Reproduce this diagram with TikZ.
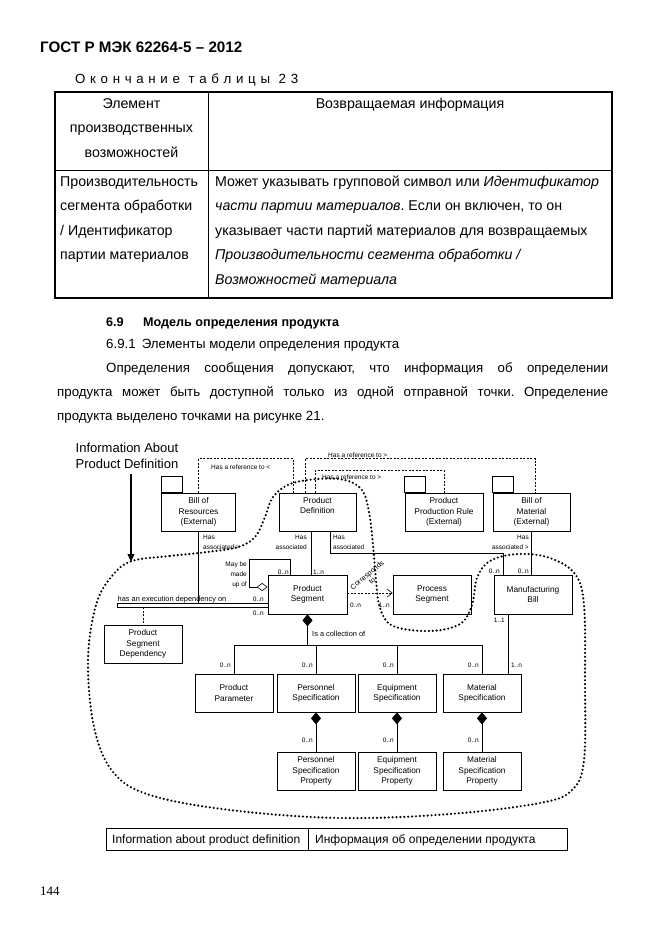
\documentclass[tikz,border=0pt]{standalone}
\usepackage{fontspec}
\setmainfont{Liberation Sans}
\newfontfamily\pagenumfont{Liberation Serif}
\usetikzlibrary{arrows.meta}
\frenchspacing

\newcommand\bodysize{\fontsize{13.3pt}{24pt}\selectfont}
\newcommand\tablesize{\fontsize{14.2pt}{24pt}\selectfont}
\newcommand\boxsize{\fontsize{8.3pt}{10.3pt}\selectfont}
\newcommand\tagsize{\fontsize{6.5pt}{9.5pt}\selectfont}
\newcommand\notesize{\fontsize{7.4pt}{9.5pt}\selectfont}

\tikzset{
  txt/.style={anchor=base west, inner sep=0pt, font=\bodysize},
  cell/.style={anchor=base west, inner sep=0pt, font=\tablesize},
  cls/.style={draw, line width=0.7pt, minimum width=78pt, minimum height=38pt,
    inner sep=1pt, align=center, font=\boxsize},
  mult/.style={inner sep=0pt, font=\tagsize},
  link/.style={line width=0.6pt},
  refline/.style={line width=0.6pt, dash pattern=on 2pt off 1.5pt},
  comp/.style={line width=0.6pt, {Diamond[length=12pt,width=10pt]}-},
  aggr/.style={line width=0.6pt, {Diamond[open,length=11pt,width=8pt]}-},
  bound/.style={line width=2.4pt, dash pattern=on 0pt off 3.9pt, line cap=round}
}

\begin{document}
\begin{tikzpicture}[x=1pt, y=-1pt]
  \fill[white] (0,0) rectangle (662,935);
  \useasboundingbox (0,0) rectangle (662,935);
  % page head:
  \node[txt, font={\fontsize{15.2pt}{18pt}\selectfont\bfseries}] (gost) at (40,52) {ГОСТ Р МЭК 62264-5 – 2012};
  \node[txt] (cont) at (75,83) {\makebox[223pt][s]{О к о н ч а н и е\hspace{4pt} т а б л и ц ы\hspace{4pt} 2 3}};
  % table 23, last part:
  \draw[line width=1.4pt] (55,92) rectangle (612,298);
  \draw[line width=1pt] (208,92) -- (208,298);
  \draw[line width=1pt] (55,170) -- (612,170);
  \node[cell, anchor=base] at (131.5,108) {Элемент};
  \node[cell, anchor=base] at (131.5,132.5) {производственных};
  \node[cell, anchor=base] at (131.5,157) {возможностей};
  \node[cell, anchor=base] at (410,108) {Возвращаемая информация};
  \node[cell] at (60,186) {Производительность};
  \node[cell] at (60,210.5) {сегмента обработки};
  \node[cell] at (60,235) {/ Идентификатор};
  \node[cell] at (60,259.5) {партии материалов};
  \node[cell] at (215,186) {Может указывать групповой символ или \textit{Идентификатор}};
  \node[cell] at (215,210.5) {\textit{части партии материалов}. Если он включен, то он};
  \node[cell] at (215,235) {указывает части партий материалов для возвращаемых};
  \node[cell] at (215,259.5) {\textit{Производительности сегмента обработки /}};
  \node[cell] at (215,284) {\textit{Возможностей материала}};
  % section text:
  \node[txt, font={\fontsize{12.6pt}{24pt}\selectfont\bfseries}] at (106,326) {6.9};
  \node[txt, font={\fontsize{12.6pt}{24pt}\selectfont\bfseries}] at (143,326) {Модель определения продукта};
  \node[txt] at (106,348) {6.9.1\hspace{6pt}Элементы модели определения продукта};
  \node[txt] at (106,372) {\makebox[502pt][s]{Определения сообщения допускают, что информация об определении}};
  \node[txt] at (57,396) {\makebox[551pt][s]{продукта может быть доступной только из одной отправной точки. Определение}};
  \node[txt] at (57,420) {продукта выделено точками на рисунке 21.};

  % label and arrow pointing at the dotted boundary:
  \node[align=center, inner sep=0pt, font=\fontsize{13pt}{16pt}\selectfont] (info) at (127,456) {Information About\\Product Definition};
  \coordinate (tip) at (131,562);
  \draw[line width=2.2pt, -{Triangle[length=8pt,width=6.5pt]}] ([yshift=-5pt]info.south -| tip) -- (tip);

  % top row, external packages:
  \node[cls, minimum width=74pt] (bor) at (198.5,512) {Bill of\\Resources\\(External)};
  \node[cls, minimum width=77pt] (pdef) at (317.5,512) {Product\\Definition\\[3pt]};
  \node[cls] (ppr) at (444,512) {Product\\Production Rule\\(External)};
  \node[cls, minimum width=77pt] (bom) at (531.5,512) {Bill of\\Material\\(External)};
  \foreach \p in {bor,ppr,bom}
    \draw[line width=0.7pt] (\p.north west) rectangle ++(21,-16);
  % segments:
  \node[cls, minimum width=79pt, minimum height=39pt] (pseg) at (307.5,594.5) {Product\\Segment};
  \node[cls, minimum height=39pt] (proc) at (432,594.5) {Process\\Segment};
  \node[cls, minimum height=39pt] (mbill) at (533,594.5) {Manufacturing\\Bill};
  \node[cls] (psd) at (143,644) {Product\\Segment\\Dependency};
  % parameters and specifications:
  \node[cls] (ppar) at (234,693) {Product\\Parameter};
  \node[cls] (persp) at (316,693) {Personnel\\Specification};
  \node[cls] (eqsp) at (397,693) {Equipment\\Specification};
  \node[cls] (matsp) at (482,693) {Material\\Specification};
  \node[cls] (perprop) at (316,771) {Personnel\\Specification\\Property};
  \node[cls] (eqprop) at (397,771) {Equipment\\Specification\\Property};
  \node[cls] (matprop) at (482,771) {Material\\Specification\\Property};

  % references to the external packages:
  \draw[refline] (bor.north) -- ++(0,-34) -| ([xshift=-24.5pt]pdef.north);
  \node[mult, anchor=west] at (211,467) {Has a reference to <};
  \draw[refline] ([xshift=-12.5pt]pdef.north) -- ++(0,-34) -| ([xshift=3.5pt]bom.north);
  \node[mult, anchor=south west] at (328,458) {Has a reference to >};
  \draw[refline] ([xshift=-2.5pt]pdef.north) -- ++(0,-22) -| (ppr.north);
  \node[mult, anchor=west] at (322,477) {Has a reference to >};

  % associations:
  \draw[link] (bor.south) |- ([yshift=-8.5pt]pseg.west);
  \node[mult, anchor=base west] at (203,539.5) {Has};
  \node[mult, anchor=base west] at (203,549.5) {associated >};
  \draw[link] ([xshift=-6.5pt]pdef.south) -- ([xshift=3.5pt]pseg.north);
  \node[mult, anchor=base east] at (307,539.5) {Has};
  \node[mult, anchor=base east] at (307,549.5) {associated};
  \node[mult, anchor=base west] at (313,574) {1..n};
  \draw[link] ([xshift=12.5pt]pdef.south) -- ++(0,22) -| ([xshift=-30pt]mbill.north);
  \node[mult, anchor=base west] at (333,539.5) {Has};
  \node[mult, anchor=base west] at (333,549.5) {associated};
  \node[mult, anchor=base east] at (500,573) {0..n};
  \draw[link] (bom.south) -- (bom.south |- mbill.north);
  \node[mult, anchor=base east] at (529,539.5) {Has};
  \node[mult, anchor=base east] at (529,549.5) {associated >};
  \node[mult, anchor=base east] at (529,573) {0..n};
  \draw[link] ([xshift=-25pt]mbill.south) -- ([xshift=26pt]matsp.north);
  \node[mult, anchor=base east] at (505,622) {1..1};
  \node[mult, anchor=base west] at (511,667) {1..n};

  % execution dependency:
  \coordinate (execl) at (117,603);
  \coordinate (execd) at (143,607);
  \draw[line width=1pt] (execl) -- ([yshift=-8.5pt]pseg.west);
  \draw[link] (execl) -- ++(0,4) -- ([yshift=-12.5pt]pseg.west);
  \draw[refline] (execd) -- (psd.north);
  \node[mult, font=\notesize, anchor=base west] at (117.5,601) {has an execution dependency on};
  \node[mult, anchor=base east] at (264,601) {0..n};
  \node[mult, anchor=base east] at (264,615) {0..n};

  % may be made up of:
  \draw[aggr] ([yshift=7.5pt]pseg.west) -- ++(-18,0) -- ++(0,-28) -| ([xshift=-17.5pt]pseg.north);
  \node[mult, anchor=base east] at (247,566) {May be};
  \node[mult, anchor=base east] at (247,576) {made};
  \node[mult, anchor=base east] at (247,586) {up of};
  \node[mult, anchor=base east] at (289,574) {0..n};

  % corresponds to:
  \draw[refline, -{Straight Barb[length=5pt,width=8pt]}] ([yshift=1.5pt]pseg.east) -- ([yshift=1.5pt]proc.west);
  \node[mult, font=\fontsize{7.2pt}{7.6pt}\selectfont, rotate=40, align=center] at (369.5,578) {Corresponds\\to};
  \node[mult, anchor=base west] at (350,607) {0..n};
  \node[mult, anchor=base east] at (390,607) {1..n};

  % is a collection of:
  \coordinate (bus) at (0,645);
  \draw[comp] (pseg.south) -- (pseg.south |- bus);
  \draw[link] (ppar.north) |- (bus -| matsp.north) -- (matsp.north);
  \draw[link] (persp.north) -- (persp.north |- bus);
  \draw[link] (eqsp.north) -- (eqsp.north |- bus);
  \node[mult, font=\notesize, anchor=base west] at (312,636) {Is a collection of};
  \foreach \x in {231,313,394,479}
    \node[mult, anchor=base east] at (\x,667) {0..n};
  \foreach \s/\p in {persp/perprop, eqsp/eqprop, matsp/matprop}
    \draw[comp] (\s.south) -- (\p.north);
  \foreach \x in {313,394,479}
    \node[mult, anchor=base east] at (\x,742) {0..n};

  % dotted boundary of the product definition information:
  \draw[bound] plot[smooth cycle, tension=0.6] coordinates {
    (132,561) (170,556) (207,552) (238,547) (255,537) (265,517) (273,497)
    (290,484) (318,479) (345,480) (362,490) (369,512) (373,545) (376,580)
    (380,608) (393,626) (430,631) (460,624) (472,605) (477,578) (490,561)
    (518,554) (550,558) (575,574) (584,605) (585,680) (584,760) (572,790)
    (540,803) (450,814) (340,818) (230,810) (150,795) (113,772) (94,727)
    (88,660) (96,605) (112,576)};

  % legend:
  \draw[line width=0.8pt] (106,828) rectangle (567,850);
  \draw[line width=0.8pt] (308,828) -- (308,850);
  \node[txt, font=\fontsize{12pt}{14pt}\selectfont] at (112,843) {Information about product definition};
  \node[txt, font=\fontsize{12pt}{14pt}\selectfont] at (315,843) {Информация об определении продукта};
  % page number:
  \node[txt, font={\pagenumfont\fontsize{13pt}{15pt}\selectfont}] at (40,895) {144};
\end{tikzpicture}
\end{document}
